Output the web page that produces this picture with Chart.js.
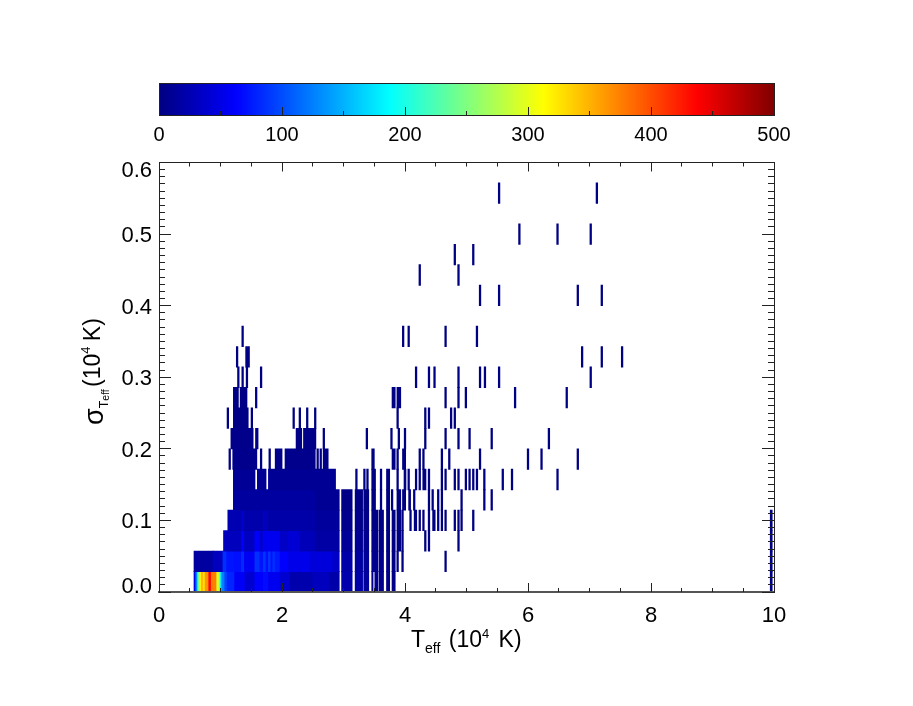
<!DOCTYPE html>
<html><head><meta charset="utf-8">
<style>html,body{margin:0;padding:0;background:#fff}canvas{position:absolute;left:0;top:0}</style>
<script src="https://cdn.jsdelivr.net/npm/chart.js@4"></script>
</head><body>
<div style="position:relative;width:913px;height:706px;overflow:hidden">
<canvas id="bar" width="913" height="160" style="width:913px;height:160px"></canvas>
<canvas id="map" width="913" height="706" style="width:913px;height:706px;top:0"></canvas>
</div>
<script>
// ---- axis values ----
const xMajorStep = 2, xMinorStep = 0.5, xMax = 10;
const yMajorStep = 0.1, yMinorStep = 0.01, yMax = 0.6;
const yTickLabels = ['0.0','0.1','0.2','0.3','0.4','0.5','0.6'];
const yTickLabelAt = [0.0070,0.0972,0.1972,0.2972,0.3972,0.4972,0.5886];
const colorMax = 500;
const colorStops = [0,62.5,187.5,312.5,437.5,500];
const colorStopRGB = [[0,0,128],[0,0,255],[0,255,255],[255,255,0],[255,0,0],[128,0,0]];
const sigmaBins = 21;
const markHalfWidth = 0.012;

// ---- histogram: runs are [Teff from, Teff to, count], per sigma row ----
const row0Runs = [[.57,.60,55],[.60,.63,130],[.63,.66,240],[.66,.69,318],[.69,.72,350],[.72,.75,325],[.75,.81,365],[.81,.85,437],[.85,.94,375],[.94,.98,295],[.98,1.0,250],[1.0,1.02,180],[1.02,1.07,125],[1.07,1.11,95],[1.11,1.23,80],[1.23,1.40,58],[1.40,1.56,40],[1.56,1.70,62],[1.70,1.78,68],[1.78,1.97,55],[1.97,2.13,40],[2.13,2.50,22],[2.50,2.78,30],[2.78,2.93,20],[2.97,3.14,22],[3.19,3.31,20],[3.33,3.41,14],[3.46,3.48,6],[3.51,3.56,8],[3.58,3.65,6],[3.70,3.75,4],[3.79,3.84,3],[9.94,9.97,3]];
const row1Runs = [[.57,.88,16],[.88,1.04,30],[1.04,1.10,85],[1.10,1.23,72],[1.23,1.34,70],[1.34,1.39,82],[1.39,1.56,57],[1.56,1.64,85],[1.64,1.70,72],[1.70,1.74,88],[1.74,1.78,70],[1.78,1.82,88],[1.82,1.85,70],[1.85,1.89,85],[1.89,1.97,75],[1.97,2.10,62],[2.10,2.46,52],[2.46,2.83,45],[2.83,2.93,35],[2.97,3.14,20],[3.19,3.31,16],[3.33,3.41,12],[3.46,3.56,8],[3.58,3.65,6],[3.70,3.75,4],[3.79,3.84,3],[9.94,9.97,2]];
const row2Runs = [[1.05,1.34,30],[1.34,1.39,60],[1.39,1.56,32],[1.56,1.64,60],[1.64,1.70,40],[1.70,1.97,55],[1.97,2.10,35],[2.10,2.29,42],[2.29,2.54,28],[2.54,2.93,18],[2.97,3.14,12],[3.19,3.31,10],[3.33,3.41,8],[3.46,3.56,4],[3.58,3.65,3],[3.70,3.75,2],[3.79,3.84,2],[3.87,3.93,1],[9.94,9.97,2]];
const row3Runs = [[1.12,1.34,25],[1.34,1.39,35],[1.39,1.70,22],[1.70,1.78,30],[1.78,2.54,20],[2.54,2.93,14],[2.97,3.14,6],[3.19,3.31,5],[3.33,3.41,4],[3.46,3.56,2],[3.58,3.65,2],[3.70,3.75,1],[3.79,3.84,1],[3.87,3.93,1],[4.15,4.19,1],[4.45,4.49,1],[9.94,9.97,1]];
const row4Runs = [[1.21,1.60,15],[1.60,2.54,16],[2.54,2.93,10],[2.97,3.14,3],[3.19,3.31,3],[3.33,3.41,2],[3.46,3.52,1],[3.70,3.75,1],[3.87,3.93,1],[3.96,4.01,1],[4.06,4.09,1]];
const row5Runs = [[1.21,1.56,11],[1.60,1.74,10],[1.78,2.87,10],[3.46,3.52,1],[3.70,3.75,1],[3.985,4.015,1],[4.29,4.34,1]];
const row6Runs = [[1.20,1.59,6],[1.89,2.00,5],[2.05,2.54,6],[2.67,2.75,3],[3.46,3.50,1],[3.79,3.84,1],[3.96,4.01,1]];
const row7Runs = [[1.17,1.53,5],[1.57,1.61,2],[2.23,2.32,3],[2.35,2.55,4]];
const row8Runs = [[1.21,1.45,3]];
const row9Runs = [[1.21,1.29,2],[1.32,1.43,2],[3.79,3.84,1],[3.87,3.93,1]];
const row11Runs = [[1.41,1.47,2]];
const denseRows = [row0Runs,row1Runs,row2Runs,row3Runs,row4Runs,row5Runs,row6Runs,row7Runs,row8Runs,row9Runs,[],row11Runs];

// ---- single-count cells: Teff of the cell, per sigma row ----
const row1Marks = [3.88,3.96,4.66];
const row2Marks = [3.96,4.33,4.39,4.87];
const row3Marks = [3.96,4.09,4.24,4.30,4.39,4.54,4.60,4.66,4.81,4.87,4.92,5.11];
const row4Marks = [3.61,3.79,4.15,4.39,4.45,4.54,4.60,4.92,5.29,5.41];
const row5Marks = [3.21,3.34,3.39,3.61,3.88,4.06,4.18,4.24,4.39,4.60,4.66,4.81,4.87,4.99,5.05,5.11,5.17,5.29,5.59,5.74,6.48];
const row6Marks = [1.15,1.66,1.80,2.58,2.63,3.88,4.24,4.30,4.60,4.72,5.22,6.00,6.22,6.81];
const row7Marks = [2.68,3.38,3.78,3.90,4.00,4.33,4.66,4.87,5.05,5.41,6.34];
const row8Marks = [1.12,1.51,2.19,2.29,2.41,2.54,3.88,4.33,4.39,4.75,4.81];
const row9Marks = [1.58,4.66,4.87,4.99,5.79,6.63];
const row10Marks = [1.29,1.36,1.43,1.66,4.18,4.39,4.48,4.87,5.22,5.30,5.53,7.02];
const row11Marks = [1.27,6.88,7.20,7.53];
const row12Marks = [1.36,3.97,4.06,4.66,5.17];
const row14Marks = [5.22,5.53,6.81,7.20];
const row15Marks = [4.24,4.87];
const row16Marks = [4.81,5.11];
const row17Marks = [5.86,6.48,7.02];
const row19Marks = [5.53,7.12];
const markRows = {1:row1Marks,2:row2Marks,3:row3Marks,4:row4Marks,5:row5Marks,6:row6Marks,7:row7Marks,8:row8Marks,9:row9Marks,10:row10Marks,11:row11Marks,12:row12Marks,14:row14Marks,15:row15Marks,16:row16Marks,17:row17Marks,19:row19Marks};

// ---- axis title text runs: [text, font size, baseline shift, gap before] ----
const xTitleRuns = [['T',23,0,0],['eff',14,6,0],[' (10',23,0,2],['4',13,-9,0],[' K)',23,0,3]];
const yTitleRuns = [['\u03C3',27,3.5,0],['T',12.5,8.5,0],['eff',10.5,9,0],['(10',23,0,2.2],['4',13,-9.5,0],[' K)',23,0,-1]];

const FONT = '"Liberation Sans", Arial, Helvetica, sans-serif';
const INK = '#000';
const AXIS = '#222';

function jet(v){
  v = Math.max(0, Math.min(colorMax, v));
  let i = 0;
  while (i < colorStops.length-2 && v > colorStops[i+1]) i++;
  const t = (v-colorStops[i])/(colorStops[i+1]-colorStops[i]);
  const a = colorStopRGB[i], b = colorStopRGB[i+1];
  return 'rgb('+a.map((c,k)=>Math.round(c+(b[k]-c)*t)).join(',')+')';
}

const binH = yMax/sigmaBins;
const cells = [];
denseRows.forEach((runs,r)=>runs.forEach(([a,b,c])=>cells.push({x:[a,b],y:(r+.5)*binH,count:c})));
Object.keys(markRows).forEach(r=>markRows[r].forEach(x=>cells.push({x:[x-markHalfWidth,x+markHalfWidth],y:(+r+.5)*binH,count:1})));

const zeroW = s => { s.width = 0; };
const zeroH = s => { s.height = 0; };
function tickAxis(axis, position, min, max, step, len, fit){
  return { type:'linear', axis, position, min, max, offset:false, afterFit:fit,
    ticks:{display:false, stepSize:step, autoSkip:false},
    grid:{drawOnChartArea:false, drawTicks:true, offset:false, tickLength:-len, tickColor:AXIS, tickWidth:1, z:1},
    border:{display:false} };
}

function drawRuns(ctx, runs){
  let pos = 0;
  runs.forEach(([text,size,shift,gap])=>{
    pos += gap;
    ctx.font = size+'px '+FONT;
    ctx.fillText(text,pos,shift);
    pos += ctx.measureText(text).width;
  });
}
const titlesPlugin = { id:'titles', afterDraw(chart){
  const ctx = chart.ctx;
  ctx.save();
  ctx.fillStyle = INK; ctx.textBaseline='alphabetic'; ctx.textAlign='left';
  ctx.save(); ctx.translate(411, 647); drawRuns(ctx, xTitleRuns); ctx.restore();
  ctx.save(); ctx.translate(99.5, 425); ctx.rotate(-Math.PI/2); drawRuns(ctx, yTitleRuns); ctx.restore();
  ctx.restore();
}};

new Chart(document.getElementById('map'),{
  type:'bar',
  data:{datasets:[{
    data:cells, indexAxis:'y',
    barThickness:20.5, borderWidth:0, inflateAmount:0.4, borderSkipped:false,
    backgroundColor:c=>jet(c.raw ? c.raw.count : 0)
  }]},
  options:{
    indexAxis:'y', responsive:false, animation:false,
    layout:{padding:{left:59,right:139,top:162.5,bottom:54}},
    plugins:{legend:{display:false},title:{display:false},tooltip:{enabled:false}},
    scales:{
      x:{type:'linear',position:'bottom',weight:1,min:0,max:xMax,afterFit:s=>{s.height=60;},
        ticks:{stepSize:xMajorStep,autoSkip:false,maxRotation:0,padding:20,color:INK,font:{family:FONT,size:22},z:1},
        grid:{drawOnChartArea:false,tickLength:-9,tickColor:AXIS,tickWidth:1,z:1},
        border:{display:true,color:'#555',width:2,z:1}},
      xMinor:tickAxis('x','bottom',0,xMax,xMinorStep,4,zeroH),
      xTop:Object.assign(tickAxis('x','top',0,xMax,xMajorStep,9,zeroH),{border:{display:true,color:AXIS,width:1,z:1}}),
      xTopMinor:tickAxis('x','top',0,xMax,xMinorStep,4,zeroH),
      y:{type:'linear',position:'left',min:0,max:yMax,offset:false,afterFit:zeroW,
        ticks:{display:false,stepSize:yMajorStep,autoSkip:false},
        grid:{drawOnChartArea:false,offset:false,tickLength:-12,tickColor:AXIS,tickWidth:1,z:1},
        border:{display:true,color:AXIS,width:1,z:1}},
      yMinor:tickAxis('y','left',0,yMax,yMinorStep,6,zeroW),
      yRight:Object.assign(tickAxis('y','right',0,yMax,yMajorStep,12,zeroW),{border:{display:true,color:AXIS,width:1,z:1}}),
      yRightMinor:tickAxis('y','right',0,yMax,yMinorStep,6,zeroW),
      yLabels:{type:'linear',position:'left',weight:1,min:0,max:yMax,offset:false,afterFit:s=>{s.width=100;},
        afterBuildTicks:s=>{s.ticks=yTickLabelAt.map(v=>({value:v}));},
        ticks:{autoSkip:false,padding:7,color:INK,font:{family:FONT,size:22},callback:(v,i)=>yTickLabels[i]},
        grid:{display:false,drawTicks:false},border:{display:false}}
    }
  },
  plugins:[titlesPlugin]
});

// colour bar
new Chart(document.getElementById('bar'),{
  type:'bar',
  data:{datasets:[{
    data:[{x:[0,colorMax],y:0}], indexAxis:'y', barThickness:33, borderWidth:0, inflateAmount:0,
    backgroundColor:c=>{
      const s=c.chart.scales.x;
      if(!s || !isFinite(s.left) || !isFinite(s.right)) return jet(0);
      const g=c.chart.ctx.createLinearGradient(s.left,0,s.right,0);
      colorStops.forEach(v=>g.addColorStop(v/colorMax,jet(v)));
      return g;
    }
  }]},
  options:{
    indexAxis:'y', responsive:false, animation:false,
    layout:{padding:{left:159,right:139,top:83,bottom:5}},
    plugins:{legend:{display:false},title:{display:false},tooltip:{enabled:false}},
    scales:{
      x:{type:'linear',position:'bottom',weight:1,min:0,max:colorMax,afterFit:s=>{s.height=40;},
        ticks:{stepSize:100,autoSkip:false,maxRotation:0,padding:16,color:INK,font:{family:FONT,size:20},z:1},
        grid:{drawOnChartArea:false,tickLength:-8,tickColor:AXIS,tickWidth:1,z:1},
        border:{display:true,color:AXIS,width:1,z:1}},
      xMinor:tickAxis('x','bottom',0,colorMax,50,4,zeroH),
      xTop:{type:'linear',position:'top',min:0,max:colorMax,afterFit:zeroH,ticks:{display:false},
        grid:{display:false,drawTicks:false},border:{display:true,color:AXIS,width:1,z:1}},
      y:{type:'linear',position:'left',min:-.5,max:.5,offset:false,afterFit:zeroW,ticks:{display:false},
        grid:{display:false,drawTicks:false},border:{display:true,color:AXIS,width:1,z:1}},
      yRight:{type:'linear',position:'right',min:-.5,max:.5,offset:false,afterFit:zeroW,ticks:{display:false},
        grid:{display:false,drawTicks:false},border:{display:true,color:AXIS,width:1,z:1}}
    }
  }
});
</script>
</body></html>
